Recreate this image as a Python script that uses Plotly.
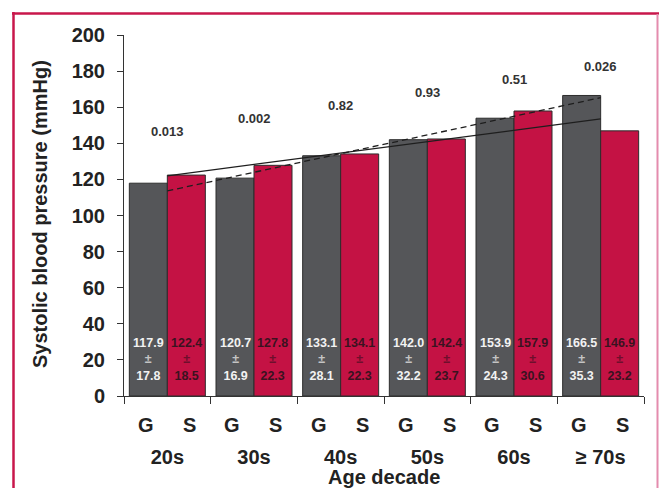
import plotly.graph_objects as go

# ---- data ----
decades = ["20s", "30s", "40s", "50s", "60s", "\u2265 70s"]
g_mean = [117.9, 120.7, 133.1, 142.0, 153.9, 166.5]
g_sd = [17.8, 16.9, 28.1, 32.2, 24.3, 35.3]
s_mean = [122.4, 127.8, 134.1, 142.4, 157.9, 146.9]
s_sd = [18.5, 22.3, 22.3, 23.7, 30.6, 23.2]
p_values = ["0.013", "0.002", "0.82", "0.93", "0.51", "0.026"]
trend_x = ["20s", "\u2265 70s"]
g_trend = [113.6, 165.3]   # dashed trend (G)
s_trend = [122.0, 153.5]   # solid trend (S)
y_ticks = [0, 20, 40, 60, 80, 100, 120, 140, 160, 180, 200]
group_labels = ["G", "S"]

# ---- layout constants ----
W, H = 659, 488
ML, MR, MT, MB = 124, 15, 35, 92
PW, PH = W - ML - MR, H - MT - MB

def px(xp):
    return (xp - ML) / PW

def py(yp):
    return (H - MB - yp) / PH

GREY = "#555659"
RED = "#c41244"
EDGE = "#2d2d2d"
FONT = "Liberation Sans, Arial, Helvetica, sans-serif"
FRAME = "#c8174b"

fig = go.Figure()
fig.add_trace(go.Bar(x=decades, y=g_mean, name="G", marker=dict(color=GREY, line=dict(color=EDGE, width=1))))
fig.add_trace(go.Bar(x=decades, y=s_mean, name="S", marker=dict(color=RED, line=dict(color=EDGE, width=1))))
fig.add_trace(go.Scatter(x=trend_x, y=g_trend, mode="lines",
                         line=dict(color="#1e1e1e", width=1.3, dash="6px,4px")))
fig.add_trace(go.Scatter(x=trend_x, y=s_trend, mode="lines",
                         line=dict(color="#1e1e1e", width=1.3)))

ann = []
off = 0.219
for i in range(len(decades)):
    ann.append(dict(x=i - off, y=20.5, xref="x", yref="y", showarrow=False, yanchor="middle",
                    text=f"{g_mean[i]:.1f}<br><span style='color:#c4c4c4'>\u00b1</span><br>{g_sd[i]:.1f}",
                    font=dict(family=FONT, size=12.5, color="#f2f2f2", weight="bold")))
    ann.append(dict(x=i + off, y=20.5, xref="x", yref="y", showarrow=False, yanchor="middle",
                    text=f"{s_mean[i]:.1f}<br><span style='color:#6e0f2c'>\u00b1</span><br>{s_sd[i]:.1f}",
                    font=dict(family=FONT, size=12.5, color="#3a1220", weight="bold")))
    ann.append(dict(x=i, y=146.8 + 7.2 * i, xref="x", yref="y", showarrow=False, yanchor="middle",
                    text=p_values[i],
                    font=dict(family=FONT, size=13, color="#333333", weight="bold")))
    for k, lab in enumerate(group_labels):
        ann.append(dict(x=i + (-0.25 if k == 0 else 0.25), y=py(425), xref="x", yref="paper",
                        showarrow=False, yanchor="middle", text=lab,
                        font=dict(family=FONT, size=20, color="#222222", weight="bold")))

ann.append(dict(x=px(384), y=py(477), xref="paper", yref="paper", showarrow=False,
                yanchor="middle", xanchor="center", text="Age decade",
                font=dict(family=FONT, size=20, color="#222222", weight="bold")))
ann.append(dict(x=px(40), y=py(214), xref="paper", yref="paper", showarrow=False,
                yanchor="middle", xanchor="center", textangle=-90,
                text="Systolic blood pressure (mmHg)",
                font=dict(family=FONT, size=20, color="#222222", weight="bold")))

shapes = [
    dict(type="line", xref="paper", yref="paper", x0=px(12), x1=px(659), y0=py(13.5), y1=py(13.5),
         line=dict(color=FRAME, width=2.5)),
    dict(type="line", xref="paper", yref="paper", x0=px(13.5), x1=px(13.5), y0=py(12), y1=py(495),
         line=dict(color=FRAME, width=2.5)),
    dict(type="line", xref="paper", yref="paper", x0=px(657.5), x1=px(657.5), y0=py(14), y1=py(495),
         line=dict(color="#e48cae", width=2)),
]

fig.update_layout(
    width=W, height=H,
    margin=dict(l=ML, r=MR, t=MT, b=MB, autoexpand=False),
    paper_bgcolor="white", plot_bgcolor="white",
    barmode="group", bargap=0.123, bargroupgap=0,
    showlegend=False,
    annotations=ann, shapes=shapes,
    font=dict(family=FONT, color="#222222"),
)
fig.update_xaxes(
    type="category", range=[-0.5, 5.5],
    showline=True, linecolor="#333333", linewidth=1,
    ticks="outside", tickson="boundaries", ticklen=7, tickcolor="#333333", tickwidth=1,
    tickfont=dict(family=FONT, size=20, color="#222222", weight="bold"),
    ticklabelstandoff=43, showgrid=False, zeroline=False, automargin=False,
)
fig.update_yaxes(
    range=[0, 200], tickvals=y_ticks,
    showline=True, linecolor="#333333", linewidth=1,
    ticks="outside", ticklen=6, tickcolor="#333333", tickwidth=1,
    tickfont=dict(family=FONT, size=20, color="#222222", weight="bold"),
    ticklabelstandoff=8, showgrid=False, zeroline=False, automargin=False,
)

fig.write_html(
    "out.html",
    config={"displayModeBar": False},
    post_script="document.body.style.margin='0';document.body.style.overflow='hidden';",
)
